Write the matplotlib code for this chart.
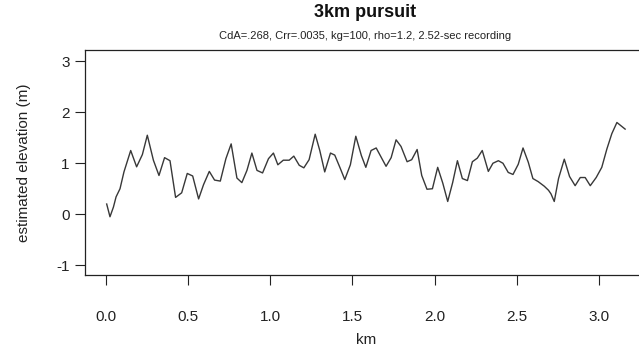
import matplotlib
matplotlib.use("Agg")
import matplotlib.pyplot as plt

# distance along the track (km) and estimated elevation (m)
km = [0.006, 0.026, 0.047, 0.063, 0.087, 0.111, 0.152, 0.188, 0.223, 0.253,
      0.290, 0.324, 0.358, 0.391, 0.425, 0.462, 0.496, 0.529, 0.565, 0.595,
      0.630, 0.662, 0.697, 0.731, 0.763, 0.798, 0.828, 0.859, 0.889, 0.920,
      0.954, 0.990, 1.020, 1.047, 1.080, 1.116, 1.144, 1.177, 1.205, 1.237,
      1.274, 1.302, 1.332, 1.367, 1.393, 1.424, 1.454, 1.488, 1.521, 1.555,
      1.582, 1.614, 1.645, 1.675, 1.705, 1.736, 1.766, 1.796, 1.833, 1.861,
      1.894, 1.922, 1.954, 1.987, 2.019, 2.050, 2.080, 2.110, 2.139, 2.169,
      2.200, 2.230, 2.260, 2.290, 2.327, 2.355, 2.388, 2.416, 2.448, 2.477,
      2.509, 2.538, 2.570, 2.598, 2.630, 2.667, 2.693, 2.708, 2.728, 2.754,
      2.789, 2.821, 2.855, 2.886, 2.916, 2.947, 2.983, 3.017, 3.048, 3.078,
      3.109, 3.159]
elevation = [0.20, -0.05, 0.14, 0.34, 0.50, 0.83, 1.25, 0.93, 1.17, 1.55,
             1.06, 0.76, 1.11, 1.05, 0.33, 0.42, 0.80, 0.75, 0.30, 0.58,
             0.84, 0.67, 0.65, 1.09, 1.38, 0.71, 0.62, 0.86, 1.20, 0.86,
             0.81, 1.09, 1.20, 0.97, 1.06, 1.06, 1.14, 0.96, 0.91, 1.07,
             1.57, 1.25, 0.83, 1.20, 1.16, 0.92, 0.68, 0.97, 1.53, 1.15,
             0.92, 1.25, 1.30, 1.12, 0.94, 1.11, 1.46, 1.33, 1.03, 1.07,
             1.27, 0.76, 0.49, 0.50, 0.92, 0.61, 0.25, 0.62, 1.05, 0.70,
             0.66, 1.03, 1.10, 1.25, 0.84, 1.00, 1.05, 1.00, 0.82, 0.78,
             0.98, 1.30, 1.02, 0.70, 0.64, 0.55, 0.47, 0.40, 0.25, 0.70,
             1.08, 0.74, 0.56, 0.72, 0.72, 0.56, 0.72, 0.92, 1.28, 1.58,
             1.80, 1.67]

x_ticks = [0.0, 0.5, 1.0, 1.5, 2.0, 2.5, 3.0]
y_ticks = [-1, 0, 1, 2, 3]

plt.rcParams['font.family'] = ['Liberation Sans', 'DejaVu Sans']
plt.rcParams['axes.unicode_minus'] = False

fig = plt.figure(figsize=(6.39, 3.47), dpi=100)
# plot box runs past the right edge of the image
ax = fig.add_axes([0.133, 0.207, 0.879, 0.648])

ax.plot(km, elevation, color='#383838', linewidth=1.0)

ax.set_xlim(-0.126, 3.29)
ax.set_ylim(-1.196, 3.216)
ax.set_xticks(x_ticks)
ax.set_xticklabels([f"{t:.1f}" for t in x_ticks])
ax.set_yticks(y_ticks)

for s in ax.spines.values():
    s.set_linewidth(0.9)
    s.set_color('#222222')
ax.tick_params(direction='out', length=7, width=0.8, color='#222222',
               labelsize=11, labelcolor='#222222')
ax.tick_params(axis='x', pad=18)
ax.tick_params(axis='y', pad=4)

ax.set_xlabel('km', fontsize=11, color='#222222')
ax.xaxis.set_label_coords(0.5, -0.258)
ax.set_ylabel('estimated elevation (m)', fontsize=11, color='#222222', labelpad=18)

fig.text(0.572, 0.965, '3km pursuit', ha='center', va='center',
         fontsize=13, fontweight='bold', color='#111111')
fig.text(0.572, 0.896, 'CdA=.268, Crr=.0035, kg=100, rho=1.2, 2.52-sec recording',
         ha='center', va='center', fontsize=8, color='#222222')

fig.savefig('out.png', dpi=100)
